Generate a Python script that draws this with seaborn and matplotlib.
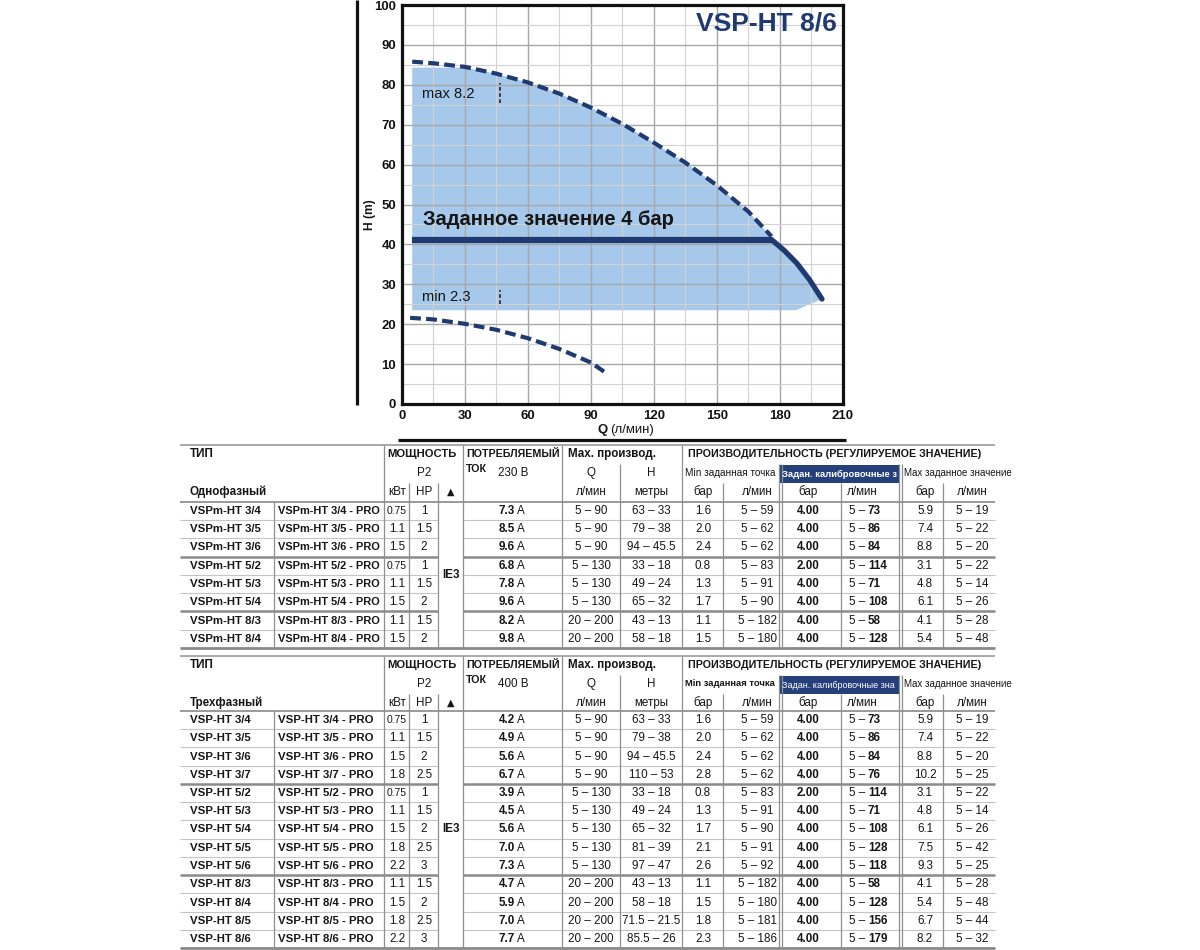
import numpy as np
import matplotlib
matplotlib.use("Agg")
import matplotlib.pyplot as plt
import seaborn as sns
from matplotlib import font_manager
from matplotlib.patches import Rectangle

# ---------------- chart data ----------------
q_max = [5, 15, 30, 45, 60, 75, 90, 105, 120, 135, 150, 165, 176]
h_max = [85.8, 85.4, 84.5, 82.8, 80.6, 77.8, 74.3, 70.2, 65.5, 60.5, 54.8, 48.2, 42.0]
q_min = [4, 15, 30, 45, 60, 75, 90, 98]
h_min = [21.6, 21.2, 20.1, 18.6, 16.5, 13.8, 10.4, 7.5]
q_set = [5, 176]
h_set = [41.2, 41.2]
q_drop = [176, 182, 188, 194, 200]
h_drop = [41.2, 38.5, 35.3, 31.2, 26.3]
q_fill = [5, 30, 45, 60, 75, 90, 105, 120, 135, 150, 165, 176, 182, 188, 194, 200, 187.5, 5]
h_fill = [84.3, 84.3, 82.8, 80.6, 77.8, 74.3, 70.2, 65.5, 60.5, 54.8, 48.2, 41.8, 38.5, 35.3, 31.2, 26.3, 23.5, 23.5]
mark_q = 47
mark_max = [75.5, 80.5]
mark_min = [25.0, 28.6]
title = "VSP-HT 8/6"
setpoint_label = "Заданное значение 4 бар"
max_label = "max 8.2"
min_label = "min 2.3"

# ---------------- table data: single phase ----------------
t1_type = ["VSPm-HT 3/4", "VSPm-HT 3/5", "VSPm-HT 3/6", "VSPm-HT 5/2", "VSPm-HT 5/3",
           "VSPm-HT 5/4", "VSPm-HT 8/3", "VSPm-HT 8/4"]
t1_kw = ["0.75", "1.1", "1.5", "0.75", "1.1", "1.5", "1.1", "1.5"]
t1_hp = ["1", "1.5", "2", "1", "1.5", "2", "1.5", "2"]
t1_amp = ["7.3", "8.5", "9.6", "6.8", "7.8", "9.6", "8.2", "9.8"]
t1_q = ["5 – 90"] * 3 + ["5 – 130"] * 3 + ["20 – 200"] * 2
t1_h = ["63 – 33", "79 – 38", "94 – 45.5", "33 – 18", "49 – 24", "65 – 32", "43 – 13", "58 – 18"]
t1_minb = ["1.6", "2.0", "2.4", "0.8", "1.3", "1.7", "1.1", "1.5"]
t1_minq = ["5 – 59", "5 – 62", "5 – 62", "5 – 83", "5 – 91", "5 – 90", "5 – 182", "5 – 180"]
t1_setb = ["4.00", "4.00", "4.00", "2.00", "4.00", "4.00", "4.00", "4.00"]
t1_setq = ["73", "86", "84", "114", "71", "108", "58", "128"]
t1_maxb = ["5.9", "7.4", "8.8", "3.1", "4.8", "6.1", "4.1", "5.4"]
t1_maxq = ["5 – 19", "5 – 22", "5 – 20", "5 – 22", "5 – 14", "5 – 26", "5 – 28", "5 – 48"]
t1_groups = [3, 3, 2]

# ---------------- table data: three phase ----------------
t2_type = ["VSP-HT 3/4", "VSP-HT 3/5", "VSP-HT 3/6", "VSP-HT 3/7", "VSP-HT 5/2", "VSP-HT 5/3",
           "VSP-HT 5/4", "VSP-HT 5/5", "VSP-HT 5/6", "VSP-HT 8/3", "VSP-HT 8/4", "VSP-HT 8/5",
           "VSP-HT 8/6"]
t2_kw = ["0.75", "1.1", "1.5", "1.8", "0.75", "1.1", "1.5", "1.8", "2.2", "1.1", "1.5", "1.8", "2.2"]
t2_hp = ["1", "1.5", "2", "2.5", "1", "1.5", "2", "2.5", "3", "1.5", "2", "2.5", "3"]
t2_amp = ["4.2", "4.9", "5.6", "6.7", "3.9", "4.5", "5.6", "7.0", "7.3", "4.7", "5.9", "7.0", "7.7"]
t2_q = ["5 – 90"] * 4 + ["5 – 130"] * 5 + ["20 – 200"] * 4
t2_h = ["63 – 33", "79 – 38", "94 – 45.5", "110 – 53", "33 – 18", "49 – 24", "65 – 32",
        "81 – 39", "97 – 47", "43 – 13", "58 – 18", "71.5 – 21.5", "85.5 – 26"]
t2_minb = ["1.6", "2.0", "2.4", "2.8", "0.8", "1.3", "1.7", "2.1", "2.6", "1.1", "1.5", "1.8", "2.3"]
t2_minq = ["5 – 59", "5 – 62", "5 – 62", "5 – 62", "5 – 83", "5 – 91", "5 – 90", "5 – 91",
           "5 – 92", "5 – 182", "5 – 180", "5 – 181", "5 – 186"]
t2_setb = ["4.00"] * 4 + ["2.00"] + ["4.00"] * 8
t2_setq = ["73", "86", "84", "76", "114", "71", "108", "128", "118", "58", "128", "156", "179"]
t2_maxb = ["5.9", "7.4", "8.8", "10.2", "3.1", "4.8", "6.1", "7.5", "9.3", "4.1", "5.4", "6.7", "8.2"]
t2_maxq = ["5 – 19", "5 – 22", "5 – 20", "5 – 25", "5 – 22", "5 – 14", "5 – 26", "5 – 42",
           "5 – 25", "5 – 28", "5 – 48", "5 – 44", "5 – 32"]
t2_groups = [4, 5, 4]

# ---------------- styling ----------------
sns.set_style("white")
names = {f.name for f in font_manager.fontManager.ttflist}
HAS_NARROW = "Liberation Sans Narrow" in names
BASE = ["Liberation Sans", "DejaVu Sans"]
NARROW = ["Liberation Sans Narrow", "Liberation Sans", "DejaVu Sans"] if HAS_NARROW else BASE
NS = 1.0 if HAS_NARROW else 0.82
plt.rcParams["font.family"] = BASE

NAVY = "#1f3a70"
FILL = "#a6c8ea"
TXT = "#161616"

fig = plt.figure(figsize=(12, 9.5), dpi=100)
ax = fig.add_axes([401.7 / 1200, 1 - 404 / 950, 441.3 / 1200, 399 / 950])

ax.fill(q_fill, h_fill, color=FILL, lw=0, zorder=1)
dash = (0, (2.6, 1.25))
sns.lineplot(x=q_max, y=h_max, ax=ax, color=NAVY, lw=3.0, linestyle=dash, zorder=3)
sns.lineplot(x=q_min, y=h_min, ax=ax, color=NAVY, lw=3.0, linestyle=dash, zorder=3)
sns.lineplot(x=q_set, y=h_set, ax=ax, color=NAVY, lw=4.5, zorder=4,
             solid_capstyle="butt")
sns.lineplot(x=q_drop, y=h_drop, ax=ax, color=NAVY, lw=3.8, zorder=4,
             solid_capstyle="round")
ax.vlines(mark_q, mark_max[0], mark_max[1], colors="#222222", lw=1.2,
          linestyles=(0, (2.2, 1.5)), zorder=4)
ax.vlines(mark_q, mark_min[0], mark_min[1], colors="#222222", lw=1.2,
          linestyles=(0, (2.2, 1.5)), zorder=4)

ax.set_xlim(0, 210)
ax.set_ylim(0, 100)
ax.set_xticks(np.arange(0, 211, 30))
ax.set_xticks(np.arange(0, 211, 15), minor=True)
ax.set_yticks(np.arange(0, 101, 10))
ax.set_yticks(np.arange(0, 101, 5), minor=True)
ax.set_axisbelow("line")
ax.grid(which="major", color="#a8a8a8", lw=1.0)
ax.grid(which="minor", color="#d2d2d2", lw=0.8)
ax.tick_params(which="both", length=0, labelsize=10.5 * (1 if HAS_NARROW else 0.9),
               pad=4, colors="#111111")
for lab in ax.get_xticklabels() + ax.get_yticklabels():
    lab.set_fontweight("bold")
    lab.set_family(NARROW)
for sp in ax.spines.values():
    sp.set_color("#111111")
    sp.set_linewidth(2.3)
ax.set_xlabel("")
ax.set_ylabel("")

ax.text(-0.072, 0.474, "H (m)", transform=ax.transAxes, rotation=90, ha="center",
        va="center", fontsize=10.5 * NS, fontweight="bold", family=NARROW, color=TXT)
ax.text(0.466, -0.066, "Q", transform=ax.transAxes, ha="right", va="center",
        fontsize=11.5 * NS, fontweight="bold", family=NARROW, color=TXT)
ax.text(0.472, -0.066, "(л/мин)", transform=ax.transAxes, ha="left", va="center",
        fontsize=11.5 * NS, family=NARROW, color=TXT)
ax.text(207, 95.4, title, ha="right", va="center", fontsize=19, fontweight="bold",
        color=NAVY, family=BASE, zorder=5)
ax.text(10, 46.3, setpoint_label, ha="left", va="center", fontsize=14.5,
        fontweight="bold", color=TXT, family=BASE, zorder=5)
ax.text(9.5, 77.6, max_label, ha="left", va="center", fontsize=13 * NS, color=TXT,
        family=NARROW, zorder=5)
ax.text(9.5, 26.8, min_label, ha="left", va="center", fontsize=13 * NS, color=TXT,
        family=NARROW, zorder=5)

# ---------------- table overlay (pixel coordinates) ----------------
tab = fig.add_axes([0, 0, 1, 1])
tab.set_xlim(0, 1200)
tab.set_ylim(950, 0)
tab.axis("off")
tab.patch.set_alpha(0)

tab.plot([357, 357], [0, 405], color="#111111", lw=2.3, solid_capstyle="butt")
tab.plot([398, 846], [440, 440], color="#111111", lw=2.3, solid_capstyle="butt")

fit_texts = []


def T(x, y, s, size=8.4, weight="normal", ha="center", color=TXT, fam=None, **kw):
    return tab.text(x, y, s, fontsize=size, fontweight=weight, ha=ha, va="center",
                    color=color, family=fam or BASE, **kw)


def H(x0, x1, y, c="#bdbdbd", lw=0.8):
    tab.plot([x0, x1], [y, y], color=c, lw=lw, solid_capstyle="butt")


def V(x, y0, y1, c="#8f8f8f", lw=0.9):
    tab.plot([x, x], [y0, y1], color=c, lw=lw, solid_capstyle="butt")


def draw_table(y0, r0, types, kw, hp, amp, qr, hr, mnb, mnq, stb, stq, mxb, mxq,
               groups, phase, volt, min_bold, set_bold, set_title):
    n = len(types)
    rh = 18.25
    ybot = r0 + (n - 1) * rh + 9
    yh = r0 - 9.5
    H(180, 995, y0, "#9a9a9a", 1.2)
    H(180, 995, yh, "#9a9a9a", 1.4)
    H(180, 995, ybot, "#8a8a8a", 2.0)
    cum = list(np.cumsum(groups)[:-1])
    for i in range(1, n):
        y = r0 + (i - 0.5) * rh
        if i in cum:
            c, lw = "#8a8a8a", 1.8
        else:
            c, lw = "#c4c4c4", 0.8
        H(180, 438, y, c, lw)
        H(463, 995, y, c, lw)
    for x in (384, 463, 562, 682):
        V(x, y0, ybot)
    V(274, yh, ybot)
    for x in (409, 438, 723, 841, 943):
        V(x, y0 + 38, ybot)
    V(620, y0 + 19, ybot)
    for x in (778.5, 781.5, 898.5, 901.5):
        V(x, y0 + 19, ybot)

    # header
    T(190, y0 + 9, "ТИП", weight="bold", ha="left")
    T(190, y0 + 47, phase, weight="bold", ha="left")
    T(387, y0 + 9, "МОЩНОСТЬ", weight="bold", ha="left", size=8.1)
    T(424, y0 + 28, "P2")
    T(397, y0 + 47, "кВт")
    T(424, y0 + 47, "HP")
    T(451, y0 + 47, "▲", size=7, fam=["DejaVu Sans"])
    T(466, y0 + 9, "ПОТРЕБЛЯЕМЫЙ", weight="bold", ha="left", size=7.7)
    T(466, y0 + 24, "ТОК", weight="bold", ha="left", size=7.7)
    T(513, y0 + 28, volt)
    T(568, y0 + 9, "Мах. производ.", weight="bold", ha="left")
    T(591, y0 + 28, "Q")
    T(651, y0 + 28, "H")
    T(591, y0 + 47, "л/мин")
    T(651, y0 + 47, "метры")
    T(688, y0 + 9, "ПРОИЗВОДИТЕЛЬНОСТЬ (РЕГУЛИРУЕМОЕ ЗНАЧЕНИЕ)", weight="bold",
      ha="left", size=7.7)
    t = T(685, y0 + 28, "Min заданная точка", ha="left", size=8.8 * NS,
          weight="bold" if min_bold else "normal", fam=NARROW)
    fit_texts.append((t, 777))
    box = Rectangle((780, y0 + 19.5), 120, 18.5, facecolor="#243f7a", edgecolor="none")
    tab.add_patch(box)
    t = T(782, y0 + 29, set_title, ha="left", size=8.2 * NS,
          weight="bold" if set_bold else "normal", color="white", fam=NARROW)
    fit_texts.append((t, 898))
    T(904, y0 + 28, "Max заданное значение", ha="left", size=8.6 * NS, fam=NARROW)
    for x, s in [(703, "бар"), (757, "л/мин"), (808, "бар"), (862, "л/мин"),
                 (925, "бар"), (972, "л/мин")]:
        T(x, y0 + 47, s)

    # rows
    for i in range(n):
        y = r0 + i * rh
        T(190, y, types[i], weight="bold", ha="left", size=8.2)
        t = T(278, y, types[i] + " - PRO", weight="bold", ha="left", size=8.2)
        fit_texts.append((t, 382))
        T(397, y, kw[i], size=7.4 if len(kw[i]) > 3 else 8.4)
        T(424, y, hp[i])
        T(515, y, amp[i], weight="bold", ha="right")
        T(517, y, "A", ha="left")
        T(591, y, qr[i])
        T(651, y, hr[i])
        T(703, y, mnb[i])
        T(757, y, mnq[i])
        T(808, y, stb[i], weight="bold")
        T(865, y, "5 –", ha="right")
        T(868, y, stq[i], weight="bold", ha="left")
        T(925, y, mxb[i])
        T(972, y, mxq[i])
    T(451, r0 + (n - 1) / 2 * rh, "IE3", weight="bold")


draw_table(445, 511, t1_type, t1_kw, t1_hp, t1_amp, t1_q, t1_h, t1_minb, t1_minq,
           t1_setb, t1_setq, t1_maxb, t1_maxq, t1_groups, "Однофазный", "230 В",
           False, True, "Задан. калибровочные з")
draw_table(656, 720, t2_type, t2_kw, t2_hp, t2_amp, t2_q, t2_h, t2_minb, t2_minq,
           t2_setb, t2_setq, t2_maxb, t2_maxq, t2_groups, "Трехфазный", "400 В",
           True, False, "Задан. калибровочные зна")

# shrink texts that would spill over their cell edge
fig.canvas.draw()
renderer = fig.canvas.get_renderer()
inv = tab.transData.inverted()
for t, xmax in fit_texts:
    for _ in range(12):
        bb = t.get_window_extent(renderer)
        x_right = inv.transform((bb.x1, bb.y1))[0]
        if x_right <= xmax:
            break
        t.set_fontsize(t.get_fontsize() * 0.97)

fig.savefig("out.png", dpi=100, facecolor="white")
